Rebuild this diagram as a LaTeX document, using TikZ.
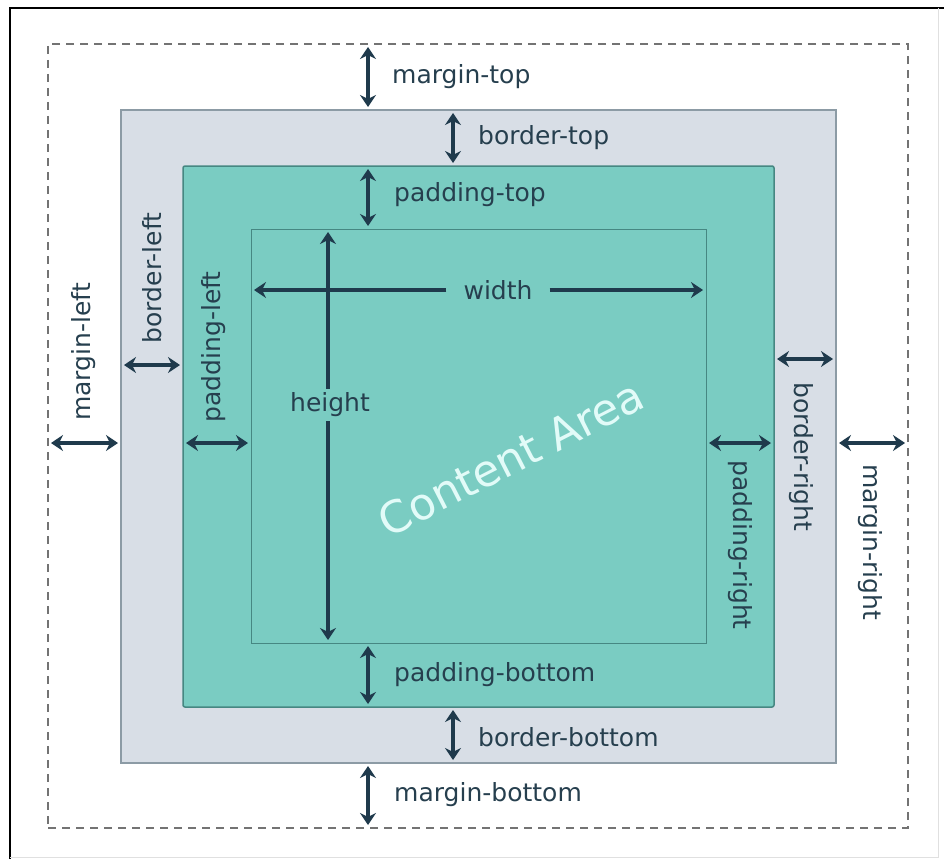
\documentclass[tikz,border=0pt]{standalone}
\usepackage{fontspec}
\setmainfont{DejaVu Sans}
\usepackage{xcolor}
\usetikzlibrary{arrows.meta}
\definecolor{border-grey}{RGB}{216,222,230}
\definecolor{border-line}{RGB}{140,155,165}
\definecolor{padding-teal}{RGB}{122,204,194}
\definecolor{padding-line}{RGB}{70,135,130}
\definecolor{arrow-navy}{RGB}{31,58,76}
\definecolor{label-navy}{RGB}{38,63,78}
\definecolor{content-white}{RGB}{226,251,248}
\tikzstyle{box}=[inner sep=0pt, outer sep=0pt]
\tikzstyle{dimarrow}=[line width=3.5pt, arrow-navy, {Stealth[length=12pt,width=16pt]}-{Stealth[length=12pt,width=16pt]}, shorten <=3pt, shorten >=3pt]
\tikzstyle{dimline}=[line width=3.5pt, arrow-navy, -{Stealth[length=12pt,width=16pt]}, shorten >=3pt]
\tikzstyle{lbl}=[font=\fontsize{25}{30}\selectfont, text=label-navy, inner sep=0pt]

\begin{document}
\begin{tikzpicture}[x=1pt,y=-1pt]
	\useasboundingbox (0,0) rectangle (944,859);
	\draw[line width=2pt] (10,859) -- (10,8) -- (944,8);
	\draw[black!12] (938,8) -- (938,857) -- (10,857);
	\node[box, draw=black!55, dash pattern=on 8pt off 6pt, line width=1.5pt, minimum width=860pt, minimum height=784pt] (margin) at (478,436) {};
	\node[box, draw=border-line, fill=border-grey, line width=1.5pt, minimum width=715pt, minimum height=653pt] (border) at (478.5,436.5) {};
	\node[box, draw=padding-line, fill=padding-teal, rounded corners=2pt, line width=1.5pt, minimum width=591pt, minimum height=541pt] (padding) at (478.5,436.5) {};
	\node[box, draw=padding-line, fill=padding-teal, line width=1pt, minimum width=455pt, minimum height=414pt] (content) at (478.5,436) {};
	\node[font=\fontsize{44}{50}\selectfont, text=content-white, rotate=27] (area) at (511,458) {Content Area};
	\coordinate (xa) at (368,0);
	\coordinate (xb) at (453,0);
	\coordinate (xh) at (328,0);
	\coordinate (ya) at (0,443);
	\coordinate (yb) at (0,365);
	\coordinate (yc) at (0,359);
	\draw[dimarrow] (xa |- margin.north) -- (xa |- border.north);
	\draw[dimarrow] (xb |- border.north) -- (xb |- padding.north);
	\draw[dimarrow] (xa |- padding.north) -- (xa |- content.north);
	\draw[dimarrow] (xa |- content.south) -- (xa |- padding.south);
	\draw[dimarrow] (xb |- padding.south) -- (xb |- border.south);
	\draw[dimarrow] (xa |- border.south) -- (xa |- margin.south);
	\draw[dimarrow] (ya -| margin.west) -- (ya -| border.west);
	\draw[dimarrow] (yb -| border.west) -- (yb -| padding.west);
	\draw[dimarrow] (ya -| padding.west) -- (ya -| content.west);
	\draw[dimarrow] (ya -| content.east) -- (ya -| padding.east);
	\draw[dimarrow] (yc -| padding.east) -- (yc -| border.east);
	\draw[dimarrow] (ya -| border.east) -- (ya -| margin.east);
	\node[lbl, anchor=west] (mtop) at (392,77) {margin-top};
	\node[lbl, anchor=west] (btop) at (478,138) {border-top};
	\node[lbl, anchor=west] (ptop) at (394,195) {padding-top};
	\node[lbl, anchor=west] (pbottom) at (394,675) {padding-bottom};
	\node[lbl, anchor=west] (bbottom) at (478,737) {border-bottom};
	\node[lbl, anchor=west] (mbottom) at (394,795) {margin-bottom};
	\node[lbl, rotate=90] (mleft) at (84,352) {margin-left};
	\node[lbl, rotate=90] (bleft) at (152,278) {border-left};
	\node[lbl, rotate=90] (pleft) at (214,347) {padding-left};
	\node[lbl, rotate=-90] (bright) at (801,457) {border-right};
	\node[lbl, rotate=-90] (pright) at (740,545) {padding-right};
	\node[lbl, rotate=-90] (mright) at (870,542) {margin-right};
	\node[lbl, inner xsep=17pt] (width) at (498,290) {width};
	\draw[dimline] (width.west) -- (width.west -| content.west);
	\draw[dimline] (width.east) -- (width.east -| content.east);
	\node[lbl, inner ysep=4pt] (height) at (330,405) {height};
	\draw[dimline] (xh |- height.north) -- (xh |- content.north);
	\draw[dimline] (xh |- height.south) -- (xh |- content.south);
\end{tikzpicture}
\end{document}
